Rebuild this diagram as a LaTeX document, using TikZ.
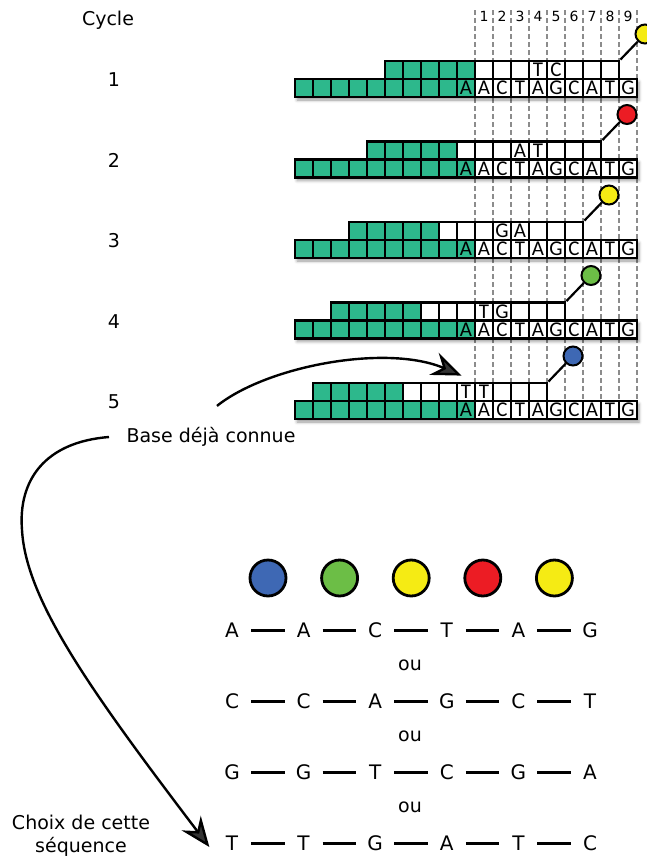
\documentclass[tikz,border=0pt]{standalone}
\usepackage{fontspec}
\setmainfont{DejaVu Sans}
\newfontfamily\boxfont{Carlito}
\usetikzlibrary{arrows.meta,shadows.blur}

\definecolor{primer}{RGB}{45,184,140}
\definecolor{dotblue}{RGB}{62,104,180}
\definecolor{dotgreen}{RGB}{108,190,70}
\definecolor{dotyellow}{RGB}{245,235,20}
\definecolor{dotred}{RGB}{236,28,36}
\definecolor{guide}{RGB}{140,140,140}

\begin{document}
\begin{tikzpicture}[x=1pt,y=-1pt,
  txt/.style={font=\fontsize{19}{23}\selectfont},
  base/.style={font=\fontsize{20}{23}\selectfont},
  nt/.style={draw,line width=2.8pt,minimum size=18pt,inner sep=0pt,fill=white,
    font=\boxfont\fontsize{21}{21}\selectfont},
  ntg/.style={nt,fill=primer},
  dot/.style={draw,circle,line width=2pt,minimum size=19pt,inner sep=0pt},
  bigdot/.style={draw,circle,line width=2.8pt,minimum size=36pt,inner sep=0pt},
  bond/.style={line width=3pt,shorten <=19pt,shorten >=19pt},
  curved/.style={line width=2.4pt,-{Stealth[length=30pt,width=24pt,inset=10pt]}}]
\useasboundingbox (0,0) rectangle (647,863);

% position guides
\foreach \k in {0,...,9}
  \draw[guide,line width=2pt,dash pattern=on 5pt off 3pt] (475+18*\k,10) -- (475+18*\k,402);
\foreach \k in {1,...,9}
  \node[font=\fontsize{14}{14}\selectfont] (pos\k) at (466+18*\k,16){\k};

\node[txt] (cycle) at (108,20){Cycle};

% one cycle per line
\foreach \c/\ta/\tb/\col in {1/T/C/dotyellow,2/A/T/dotred,3/G/A/dotyellow,4/T/G/dotgreen,5/T/T/dotblue}{
  \pgfmathsetmacro\yb{88+80.5*(\c-1)}
  \pgfmathtruncatemacro\first{6-\c}
  \pgfmathtruncatemacro\gend{10-\c}
  \pgfmathtruncatemacro\wbeg{11-\c}
  \pgfmathtruncatemacro\wend{18-\c}
  \pgfmathtruncatemacro\la{14-\c}
  \pgfmathtruncatemacro\lb{15-\c}
  \node[txt] (cyc\c) at (114,\yb-8){\c};
  % template
  \fill[white,blur shadow={shadow xshift=2pt,shadow yshift=-3pt,shadow blur radius=3pt}]
    (295,\yb-9) rectangle (637,\yb+9);
  \foreach \j in {0,...,8}
    \node[ntg] (t\c-\j) at (304+18*\j,\yb){};
  \node[ntg] (t\c-9) at (466,\yb){A};
  \foreach \b [count=\j from 10] in {A,C,T,A,G,C,A,T,G}
    \node[nt] (t\c-\j) at (304+18*\j,\yb){\b};
  % growing strand
  \foreach \j in {\first,...,\gend}
    \node[ntg] (p\c-\j) at (304+18*\j,\yb-18){};
  \foreach \j in {\wbeg,...,\wend}
    \node[nt] (p\c-\j) at (304+18*\j,\yb-18){\ifnum\j=\la\relax\ta\fi\ifnum\j=\lb\relax\tb\fi};
  \node[dot,fill=\col] (d\c) at (304+18*\wend+35,\yb-54){};
  \draw[line width=2.2pt] (p\c-\wend.north east) -- (d\c);
}

\node[txt] (known) at (211,437){Base déjà connue};
\node[txt,align=center] (choice) at (81,836){Choix de cette\\séquence};

% colours read
\foreach \col [count=\i] in {dotblue,dotgreen,dotyellow,dotred,dotyellow}
  \node[bigdot,fill=\col] (c\i) at (268+71.6*\i-71.6,578){};

% possible sequences
\foreach \seq [count=\r] in {{A,A,C,T,A,G},{C,C,A,G,C,T},{G,G,T,C,G,A},{T,T,G,A,T,C}}{
  \foreach \b [count=\i] in \seq
    \node[base] (s\r-\i) at (232+71.6*\i-71.6,630+71*\r-71){\b};
  \foreach \i [count=\n from 2] in {1,...,5}
    \draw[bond] (s\r-\i.center) -- (s\r-\n.center);
}
\foreach \r in {1,2,3}
  \node[txt] (ou\r) at (410,665.5+71*\r-71){ou};

\draw[curved] ([xshift=6pt,yshift=18pt]known.north) .. controls +(50,-40) and +(-75,-32) .. ([xshift=6pt,yshift=6pt]p5-9.north west);
\draw[curved] ([xshift=-14pt]known.west) .. controls (45,442) and (18,480) .. (22,530)
  .. controls (26,600) and (90,690) .. ([xshift=-13pt,yshift=-4pt]s4-1.west);
\end{tikzpicture}
\end{document}
